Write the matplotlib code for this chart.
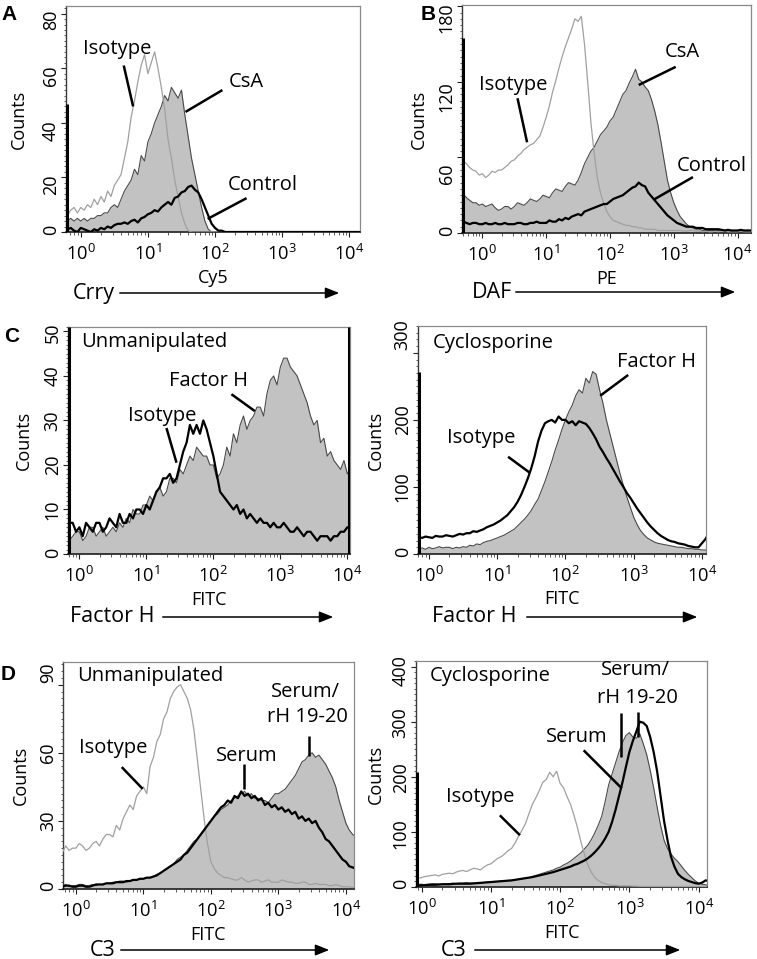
import numpy as np
import matplotlib
matplotlib.use("Agg")
import matplotlib.pyplot as plt
from matplotlib.ticker import FixedLocator, MultipleLocator, LogLocator, NullFormatter, LogFormatterSciNotation
from matplotlib.patches import FancyArrowPatch
from matplotlib.transforms import ScaledTranslation

plt.rcParams['font.family'] = ['Open Sans', 'DejaVu Sans']
plt.rcParams['mathtext.fontset'] = 'custom'
plt.rcParams['mathtext.rm'] = 'Open Sans'
plt.rcParams['mathtext.it'] = 'Open Sans'
plt.rcParams['mathtext.bf'] = 'Open Sans:bold'
plt.rcParams['mathtext.default'] = 'regular'

# ---------------- data (log10 fluorescence channel, counts) ----------------
LOG_CHANNEL = [-0.30, -0.25, -0.20, -0.15, -0.10, -0.05, 0.00, 0.05, 0.10, 0.15,
               0.20, 0.25, 0.30, 0.35, 0.40, 0.45, 0.50, 0.55, 0.60, 0.65,
               0.70, 0.75, 0.80, 0.85, 0.90, 0.95, 1.00, 1.05, 1.10, 1.15,
               1.20, 1.25, 1.30, 1.35, 1.40, 1.45, 1.50, 1.55, 1.60, 1.65,
               1.70, 1.75, 1.80, 1.85, 1.90, 1.95, 2.00, 2.05, 2.10, 2.15,
               2.20, 2.25, 2.30, 2.35, 2.40, 2.45, 2.50, 2.55, 2.60, 2.65,
               2.70, 2.75, 2.80, 2.85, 2.90, 2.95, 3.00, 3.05, 3.10, 3.15,
               3.20, 3.25, 3.30, 3.35, 3.40, 3.45, 3.50, 3.55, 3.60, 3.65,
               3.70, 3.75, 3.80, 3.85, 3.90, 3.95, 4.00, 4.05, 4.10, 4.15,
               4.20]

# Panel A: Crry (Cy5)
A_ISOTYPE = [7, 9, 6, 8, 9, 7, 9, 8, 10, 9,
             12, 10, 13, 11, 15, 13, 17, 19, 21, 27,
             33, 42, 48, 55, 61, 65, 58, 62, 66, 60,
             53, 45, 34, 27, 19, 13, 7, 3, 0.5, 0,
             0, 0, 0, 0, 0, 0, 0, 0, 0, 0,
             0, 0, 0, 0, 0, 0, 0, 0, 0, 0,
             0, 0, 0, 0, 0, 0, 0, 0, 0, 0,
             0, 0, 0, 0, 0, 0, 0, 0, 0, 0,
             0, 0, 0, 0, 0, 0, 0, 0, 0, 0,
             0]
A_CSA = [5, 4, 4, 5, 4, 5, 4, 5, 4, 5,
         5, 6, 6, 7, 7, 9, 10, 9, 12, 15,
         17, 19, 23, 21, 28, 26, 33, 36, 40, 43,
         46, 50, 48, 53, 51, 49, 52, 43, 35, 27,
         21, 15, 9, 4, 1, 0, 0, 0, 0, 0,
         0, 0, 0, 0, 0, 0, 0, 0, 0, 0,
         0, 0, 0, 0, 0, 0, 0, 0, 0, 0,
         0, 0, 0, 0, 0, 0, 0, 0, 0, 0,
         0, 0, 0, 0, 0, 0, 0, 0, 0, 0,
         0]
A_CONTROL = [1, 0, 1, 1.5, 0.5, 0, 1.5, 1, 0.5, 0,
             1, 0.5, 1.5, 1, 2, 1.5, 2.5, 3, 3, 3.5,
             3, 4, 4.5, 3.5, 5, 5.5, 6.5, 7, 8, 7.5,
             9, 10, 11, 10, 12.5, 13, 14.5, 15, 16.5, 17,
             15.5, 14.5, 12, 9, 6, 3, 1.5, 0.5, 0.5, 0,
             0, 0, 0, 0, 0, 0, 0, 0, 0, 0,
             0, 0, 0, 0, 0, 0, 0, 0, 0, 0,
             0, 0, 0, 0, 0, 0, 0, 0, 0, 0,
             0, 0, 0, 0, 0, 0, 0, 0, 0, 0,
             0]
A_FIRST_CHANNEL = (-0.21, 47)

# Panel B: DAF (PE)
B_ISOTYPE = [57, 55, 52, 50, 49, 46, 47, 44, 46, 49,
             48, 50, 50, 52, 54, 57, 58, 61, 63, 66,
             68, 70, 71, 74, 77, 84, 92, 101, 112, 121,
             131, 140, 148, 155, 162, 170, 168, 172, 150, 120,
             88, 64, 44, 32, 24, 17, 13, 10, 9, 8,
             7, 6, 6, 5, 5, 4, 4, 3, 3, 3,
             3, 2, 2, 2, 2, 2, 2, 2, 2, 1.5,
             1.5, 2, 2, 1.5, 1.5, 1, 1.5, 1, 1, 1.5,
             1, 1.5, 1.5, 1, 1, 1, 1, 1.5, 1, 1,
             1]
B_CSA = [31, 28, 26, 24, 24, 22, 23, 21, 22, 23,
         20, 18, 19, 21, 21, 19, 21, 24, 23, 22,
         24, 27, 26, 25, 27, 30, 29, 28, 32, 35,
         34, 33, 37, 40, 39, 38, 42, 48, 55, 60,
         65, 68, 73, 78, 81, 84, 89, 92, 98, 104,
         110, 113, 119, 124, 130, 122, 120, 116, 113, 106,
         97, 86, 72, 57, 42, 32, 24, 18, 13, 10,
         7, 5, 4, 3, 3, 2, 2, 2, 2, 2,
         2, 2, 2, 2, 2, 1.5, 2, 2, 1.5, 2,
         2]
B_CONTROL = [9, 8, 7, 8, 8, 7, 7, 8, 7, 7,
             8, 7, 7, 8, 7, 7, 7, 8, 8, 7,
             7, 8, 8, 9, 8, 8, 8, 10, 9, 9,
             11, 10, 12, 11, 13, 14, 15, 14, 17, 18,
             19, 20, 21, 22, 23, 23, 25, 27, 28, 29,
             30, 32, 34, 36, 37, 40, 38, 37, 32, 29,
             26, 23, 20, 17, 14, 12, 10, 8, 7, 6,
             5, 5, 5, 4, 4, 4, 3, 3, 3, 3,
             3, 2.5, 2, 2.5, 2, 2, 2, 2.5, 2, 2,
             2]
B_FIRST_CHANNEL = (-0.31, 155)

# Panel C left: Factor H, unmanipulated
C1_FACTORH = [5, 4, 6, 3, 4, 5, 5, 3, 4, 6,
              6, 4, 5, 6, 4, 5, 6, 5, 7, 6,
              8, 7, 10, 9, 9, 11, 11, 13, 12, 14,
              15, 13, 14, 17, 17, 16, 19, 18, 20, 22,
              21, 24, 23, 22, 22, 20, 20, 17, 18, 20,
              24, 22, 27, 25, 29, 31, 28, 30, 31, 33,
              33, 31, 36, 39, 40, 38, 42, 44, 44, 42,
              41, 40, 38, 36, 34, 31, 29, 30, 25, 26,
              22, 23, 21, 20, 19, 21, 18, 19, 18, 18,
              18]
C1_ISOTYPE = [6, 8, 5, 7, 7, 5, 6, 4, 7, 6,
              5, 7, 7, 5, 6, 8, 7, 6, 9, 7,
              7, 9, 8, 10, 10, 9, 11, 10, 12, 14,
              15, 17, 17, 18, 16, 17, 20, 23, 25, 29,
              27, 29, 27, 30, 28, 25, 22, 18, 14, 13,
              12, 11, 10, 11, 9, 10, 8, 9, 8, 7,
              8, 7, 7, 6, 7, 6, 6, 7, 6, 5,
              5, 6, 5, 4, 5, 5, 4, 3, 4, 4,
              4, 3, 4, 4, 5, 5, 6, 6, 7, 7,
              7]
C1_FIRST_CHANNEL = (-0.16, 51)
C1_LAST_CHANNEL = (4.02, 51)

# Panel C right: Factor H, cyclosporine
C2_FACTORH = [12, 10, 11, 8, 9, 7, 10, 8, 9, 11,
              9, 10, 10, 8, 10, 9, 11, 10, 13, 12,
              15, 14, 17, 19, 20, 22, 24, 26, 28, 31,
              34, 37, 42, 47, 52, 58, 65, 74, 82, 95,
              108, 123, 138, 155, 170, 186, 200, 212, 222, 236,
              245, 240, 262, 255, 272, 268, 245, 225, 200, 180,
              160, 140, 120, 102, 85, 70, 55, 44, 35, 29,
              24, 21, 18, 16, 15, 14, 13, 12, 11, 10,
              10, 9, 8, 8, 7, 7, 6, 6, 6, 5,
              5]
C2_ISOTYPE = [24, 25, 23, 25, 24, 26, 25, 24, 27, 26,
              26, 28, 27, 26, 28, 30, 29, 31, 31, 34,
              33, 35, 37, 40, 42, 44, 47, 50, 54, 58,
              64, 70, 78, 88, 100, 113, 128, 146, 168, 184,
              195, 198, 200, 196, 205, 200, 200, 195, 198, 192,
              198, 196, 194, 188, 180, 171, 160, 152, 143, 135,
              126, 117, 108, 100, 91, 84, 76, 68, 61, 54,
              47, 41, 36, 31, 27, 24, 21, 19, 18, 16,
              15, 14, 12, 11, 10, 10, 16, 22, 30, 30,
              30]
C2_FIRST_CHANNEL = (-0.15, 272)

# Panel D left: C3, unmanipulated
D1_ISOTYPE = [17, 18, 16, 19, 17, 18, 18, 20, 19, 17,
              18, 20, 21, 19, 22, 24, 24, 23, 28, 26,
              31, 34, 37, 35, 41, 43, 45, 42, 54, 58,
              65, 68, 75, 78, 84, 87, 89, 90, 87, 84,
              79, 70, 57, 44, 31, 20, 12, 9, 7, 6,
              5, 5, 4.5, 4, 4, 5, 4, 3, 3.5, 4,
              4, 3, 3.5, 4, 3, 3, 3, 4, 3.5, 3,
              3, 2.5, 2.5, 3, 3, 2, 2, 2.5, 2, 2,
              2, 1.5, 1.5, 2, 1.5, 1, 1, 1, 0.7, 0.5,
              0.5]
D1_SERUM_RH = [1.5, 1, 1.5, 2, 1, 1.5, 1.5, 2, 2, 1.5,
               1.5, 2, 1.5, 2, 2, 2.5, 2.5, 3, 3, 3.5,
               3.5, 3, 3.5, 4, 4, 4.5, 4.5, 5, 5, 5.5,
               6.5, 7, 8, 9, 10, 11, 13, 14, 15, 17,
               19, 21, 22, 24, 26, 28, 30, 32, 33, 35,
               36, 37, 39, 40, 41, 42, 43, 41, 42, 40,
               40, 39, 39, 38, 40, 42, 42, 43, 44, 46,
               48, 50, 53, 56, 57, 59, 60, 58, 59, 57,
               55, 52, 49, 45, 39, 34, 29, 26, 24, 23,
               22]
D1_SERUM = [1.5, 1, 1, 1.5, 1.5, 1, 1, 1.5, 1.5, 1,
            1, 1.5, 2, 2, 2, 2.5, 2.5, 2.5, 3, 3,
            3, 3.5, 3.5, 4, 4, 4.5, 4.5, 5, 5, 5.5,
            6, 7, 8, 9, 10, 11, 12, 13, 15, 16,
            18, 20, 22, 24, 26, 28, 30, 32, 34, 36,
            37, 39, 38, 41, 40, 43, 41, 42, 40, 41,
            39, 40, 37, 38, 36, 37, 35, 36, 34, 35,
            33, 34, 31, 32, 30, 31, 29, 30, 27, 25,
            22, 21, 19, 17, 15, 13, 12, 10, 9.5, 9,
            8]

# Panel D right: C3, cyclosporine
D2_ISOTYPE = [16, 14, 15, 17, 15, 16, 17, 19, 20, 21,
              22, 20, 23, 24, 25, 24, 27, 29, 30, 28,
              31, 34, 33, 31, 36, 40, 42, 47, 52, 55,
              60, 66, 70, 80, 92, 103, 115, 133, 150, 162,
              175, 190, 195, 208, 200, 210, 188, 180, 164, 150,
              130, 108, 82, 60, 40, 27, 17, 12, 8, 6,
              4, 3, 3, 2, 2, 2, 2, 1.5, 1.5, 1,
              1, 1, 1, 1, 1, 1, 1, 1, 1, 1,
              1, 1, 1, 1, 1, 1, 1, 1, 1, 1,
              1]
D2_SERUM_RH = [5, 6, 5, 4, 4, 5, 5, 4, 5, 6,
               6, 5, 5, 6, 6, 7, 6, 7, 7, 8,
               7, 7, 7, 8, 8, 9, 9, 10, 10, 11,
               11, 12, 12, 13, 14, 15, 16, 17, 19, 21,
               23, 25, 27, 29, 31, 34, 36, 40, 43, 47,
               52, 57, 62, 69, 76, 86, 98, 112, 128, 155,
               185, 205, 225, 245, 262, 275, 280, 272, 270, 278,
               260, 240, 212, 180, 145, 112, 85, 70, 60, 52,
               46, 38, 30, 23, 17, 11, 7, 5, 4, 3,
               3]
D2_SERUM = [3, 3, 3, 2.5, 3, 3, 3, 3.5, 4, 4,
            4, 4.5, 5, 5, 5, 5.5, 6, 6, 6, 6,
            6, 6.5, 7, 7.5, 8, 8.5, 9, 9.5, 10, 10.5,
            11, 11.5, 12, 13, 14, 15, 16, 17, 18, 19.5,
            21, 22.5, 24, 25.5, 27, 29, 31, 33, 35, 37,
            40, 42, 45, 48, 52, 57, 63, 70, 78, 88,
            100, 118, 140, 165, 190, 218, 245, 265, 282, 300,
            298, 292, 272, 245, 210, 165, 120, 85, 55, 37,
            24, 18, 14, 11, 9, 7, 6, 8, 12, 11,
            10]
D2_FIRST_CHANNEL = (-0.07, 209)

DECADE_TICKS = [1, 10, 100, 1000, 10000]

# ---------------- styling ----------------
W, H = 757, 959
FILL = '#c2c2c2'
FILL_EDGE = '#4a4a4a'
ISO_GREY = '#a0a0a0'
ANN_FS = 14.5
TICK_FS = 13.2
YTICK_FS = 13
LAB_FS = 13
ARROW_FS = 15.5

fig = plt.figure(figsize=(W / 100, H / 100), dpi=100)
x = 10 ** np.array(LOG_CHANNEL)


def make_axes(l, t, r, b, xlim_log, ytop, yticks, yminor, ylab_x, xlabel, xlab_y, label_shift):
    ax = fig.add_axes([l / W, 1 - b / H, (r - l) / W, (b - t) / H])
    ax.set_xscale('log')
    ax.set_xlim(10 ** xlim_log[0], 10 ** xlim_log[1])
    ax.set_ylim(0, ytop)
    ax.xaxis.set_major_locator(FixedLocator(DECADE_TICKS))
    ax.xaxis.set_major_formatter(LogFormatterSciNotation())
    ax.xaxis.set_minor_locator(LogLocator(base=10, subs=np.arange(2, 10)))
    ax.xaxis.set_minor_formatter(NullFormatter())
    ax.yaxis.set_major_locator(FixedLocator(yticks))
    ax.yaxis.set_minor_locator(MultipleLocator(yminor))
    ax.tick_params(axis='both', which='major', direction='out', length=3.5, width=0.8, color='#222222')
    ax.tick_params(axis='both', which='minor', direction='out', length=1.8, width=0.6, color='#444444')
    ax.tick_params(axis='x', which='major', labelsize=TICK_FS, pad=5)
    ax.tick_params(axis='y', which='major', labelsize=YTICK_FS, pad=1, labelrotation=90)
    # vertical offsets (pixels, positive = down) of the rotated count labels, as in the reference
    for tick, dy in zip(ax.yaxis.get_major_ticks(), label_shift):
        tick.label1.set_verticalalignment('center')
        tick.label1.set_transform(tick.label1.get_transform() +
                                  ScaledTranslation(0, -dy / 100, fig.dpi_scale_trans))
    for s in ['top', 'right']:
        ax.spines[s].set_color('#8a8a8a')
        ax.spines[s].set_linewidth(0.9)
    ax.spines['left'].set_color('#3a3a3a')
    ax.spines['left'].set_linewidth(1.0)
    ax.spines['bottom'].set_color('#111111')
    ax.spines['bottom'].set_linewidth(1.1)
    ax.set_ylabel('Counts', fontsize=LAB_FS)
    ax.yaxis.set_label_coords(ylab_x, 0.5)
    ax.set_xlabel(xlabel, fontsize=LAB_FS)
    ax.xaxis.set_label_coords(0.5, xlab_y)
    return ax


def fill_curve(ax, vals):
    ax.fill_between(x, vals, 0, color=FILL, lw=0, zorder=2)
    ax.plot(x, vals, color=FILL_EDGE, lw=0.8, zorder=3)


def grey_line(ax, vals):
    ax.plot(x, vals, color=ISO_GREY, lw=0.9, zorder=4)


def black_line(ax, vals):
    ax.plot(x, vals, color='black', lw=1.6, zorder=5)


def spike(ax, chan):
    ax.vlines(10 ** chan[0], 0, chan[1], color='black', lw=2.2, zorder=6)


def note(ax, text, lx, y, ha='center'):
    ax.text(10 ** lx, y, text, ha=ha, va='center', fontsize=ANN_FS, zorder=8)


def pointer(ax, lx0, y0, lx1, y1):
    ax.plot([10 ** lx0, 10 ** lx1], [y0, y1], color='black', lw=1.8,
            solid_capstyle='butt', zorder=8, clip_on=False)


def arrow_row(text, tx_right, y, x0, x1):
    yf = 1 - y / H
    fig.text(tx_right / W, yf, text, ha='right', va='center', fontsize=ARROW_FS)
    arr = FancyArrowPatch((x0 / W, yf), (x1 / W, yf), transform=fig.transFigure,
                          arrowstyle='-|>,head_length=0.7,head_width=0.28',
                          color='black', lw=1.1, mutation_scale=12)
    fig.add_artist(arr)


def panel_letter(letter, cx, cy):
    fig.text(cx / W, 1 - cy / H, letter, ha='center', va='center', fontsize=15,
             fontweight='bold', family=['Liberation Sans', 'DejaVu Sans'])


# ---------------- Panel A ----------------
axA = make_axes(66, 6, 360, 232, (-0.22, 4.16), 82.8, [0, 20, 40, 60, 80], 2, -0.129, 'Cy5', -0.165,
                [-2, 7, 8, 8, 6])
fill_curve(axA, A_CSA)
grey_line(axA, A_ISOTYPE)
black_line(axA, A_CONTROL)
spike(axA, A_FIRST_CHANNEL)
note(axA, 'Isotype', 0.55, 67)
pointer(axA, 0.64, 61, 0.78, 46)
note(axA, 'CsA', 2.47, 55)
pointer(axA, 2.11, 52, 1.56, 44)
note(axA, 'Control', 2.71, 17.3)
pointer(axA, 2.47, 12.4, 1.89, 4.8)

# ---------------- Panel B ----------------
axB = make_axes(462, 5, 751, 233, (-0.32, 4.21), 181, [0, 60, 120, 180], 5, -0.118, 'PE', -0.162,
                [-2, 16, 15, 11])
fill_curve(axB, B_CSA)
grey_line(axB, B_ISOTYPE)
black_line(axB, B_CONTROL)
spike(axB, B_FIRST_CHANNEL)
note(axB, 'Isotype', 0.49, 117.5)
pointer(axB, 0.55, 107, 0.70, 72)
note(axB, 'CsA', 3.13, 143.6)
pointer(axB, 3.03, 131.9, 2.45, 117.5)
note(axB, 'Control', 3.59, 53.5)
pointer(axB, 3.30, 44.4, 2.69, 26.6)

# ---------------- Panel C left ----------------
axC1 = make_axes(68, 327, 350, 554, (-0.17, 4.04), 51, [0, 10, 20, 30, 40, 50], 1, -0.124, 'FITC', -0.165,
                 [-1, 0, 0, 0, 0, 1])
fill_curve(axC1, C1_FACTORH)
black_line(axC1, C1_ISOTYPE)
spike(axC1, C1_FIRST_CHANNEL)
spike(axC1, C1_LAST_CHANNEL)
note(axC1, 'Unmanipulated', 0.025, 47.7, ha='left')
note(axC1, 'Factor H', 1.93, 38.9)
pointer(axC1, 2.27, 35.9, 2.62, 32.1)
note(axC1, 'Isotype', 1.23, 31)
pointer(axC1, 1.30, 28.3, 1.45, 20.5)

# ---------------- Panel C right ----------------
axC2 = make_axes(418, 326, 706, 554, (-0.16, 4.06), 340, [0, 100, 200, 300], 10, -0.115, 'FITC', -0.16,
                 [-2, 0, 0, -18])
fill_curve(axC2, C2_FACTORH)
black_line(axC2, C2_ISOTYPE)
spike(axC2, C2_FIRST_CHANNEL)
note(axC2, 'Cyclosporine', 0.06, 315, ha='left')
note(axC2, 'Factor H', 3.34, 287)
pointer(axC2, 2.92, 267, 2.51, 236)
note(axC2, 'Isotype', 0.76, 173)
pointer(axC2, 1.16, 145, 1.48, 121)

# ---------------- Panel D left ----------------
axD1 = make_axes(63, 662, 354, 889, (-0.19, 4.12), 100, [0, 30, 60, 90], 3, -0.113, 'FITC', -0.165,
                 [-3, 0, 0, -12])
fill_curve(axD1, D1_SERUM_RH)
grey_line(axD1, D1_ISOTYPE)
black_line(axD1, D1_SERUM)
note(axD1, 'Unmanipulated', 0.02, 93.8, ha='left')
note(axD1, 'Serum/', 3.40, 86.8)
note(axD1, 'rH 19-20', 3.43, 75.7)
pointer(axD1, 3.45, 67.6, 3.45, 58.8)
note(axD1, 'Serum', 2.53, 58.5)
pointer(axD1, 2.49, 54.9, 2.49, 44.1)
note(axD1, 'Isotype', 0.55, 62)
pointer(axD1, 0.68, 53.7, 0.99, 44.1)

# ---------------- Panel D right ----------------
axD2 = make_axes(416, 661, 707, 887, (-0.08, 4.12), 410, [0, 100, 200, 300, 400], 10, -0.107, 'FITC', -0.165,
                 [-3, 2, 1, 1, 4])
fill_curve(axD2, D2_SERUM_RH)
grey_line(axD2, D2_ISOTYPE)
black_line(axD2, D2_SERUM)
spike(axD2, D2_FIRST_CHANNEL)
note(axD2, 'Cyclosporine', 0.12, 383.6, ha='left')
note(axD2, 'Serum/', 3.09, 393)
note(axD2, 'rH 19-20', 3.11, 342)
pointer(axD2, 2.88, 315, 2.88, 236)
pointer(axD2, 3.12, 318, 3.12, 273)
note(axD2, 'Serum', 2.24, 273)
pointer(axD2, 2.34, 248, 2.89, 179)
note(axD2, 'Isotype', 0.85, 164)
pointer(axD2, 1.13, 130, 1.42, 94)

# ---------------- marker arrows and panel letters ----------------
arrow_row('Crry', 115, 293, 117, 342)
arrow_row('DAF', 512, 292, 513, 738)
arrow_row('Factor H', 155, 617, 160, 336)
arrow_row('Factor H', 517, 617, 524, 700)
arrow_row('C3', 115, 950, 118, 332)
arrow_row('C3', 467, 950, 472, 683)

panel_letter('A', 9, 15)
panel_letter('B', 428, 15)
panel_letter('C', 12, 337)
panel_letter('D', 8, 674)

fig.savefig('out.png', dpi=100)
